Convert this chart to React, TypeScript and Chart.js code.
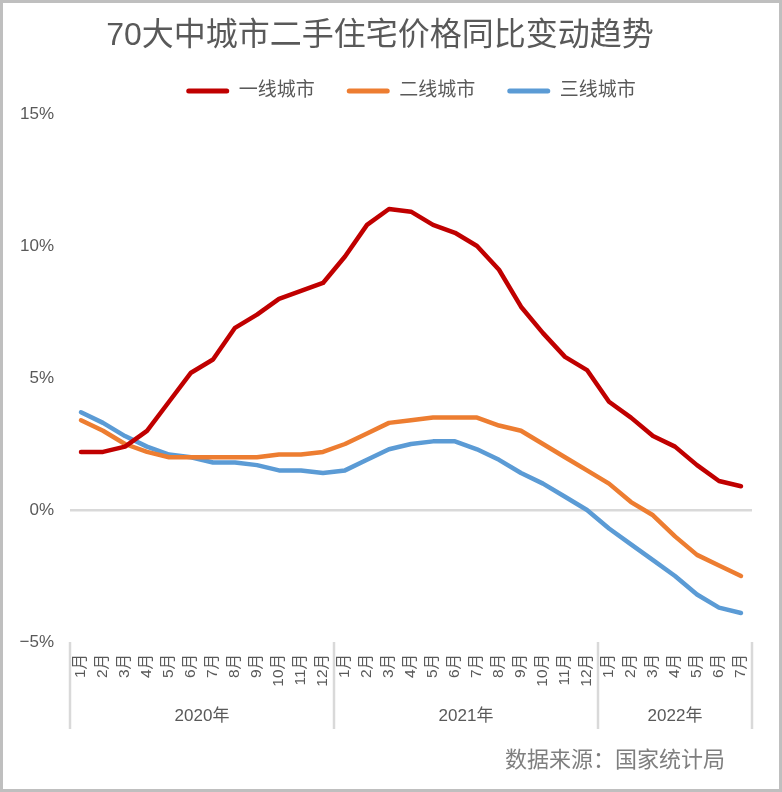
import React, { useEffect, useRef } from 'react';
import { Chart, registerables } from 'chart.js';

Chart.register(...registerables);

const months = [
  '1月', '2月', '3月', '4月', '5月', '6月', '7月', '8月', '9月', '10月', '11月', '12月',
  '1月', '2月', '3月', '4月', '5月', '6月', '7月', '8月', '9月', '10月', '11月', '12月',
  '1月', '2月', '3月', '4月', '5月', '6月', '7月',
];
const years = ['2020年', '2021年', '2022年'];
const yearSpans = [12, 12, 7];

const tier1 = [2.2, 2.2, 2.4, 3.0, 4.1, 5.2, 5.7, 6.9, 7.4, 8.0, 8.3, 8.6,
  9.6, 10.8, 11.4, 11.3, 10.8, 10.5, 10.0, 9.1, 7.7, 6.7, 5.8, 5.3,
  4.1, 3.5, 2.8, 2.4, 1.7, 1.1, 0.9];
const tier2 = [3.4, 3.0, 2.5, 2.2, 2.0, 2.0, 2.0, 2.0, 2.0, 2.1, 2.1, 2.2,
  2.5, 2.9, 3.3, 3.4, 3.5, 3.5, 3.5, 3.2, 3.0, 2.5, 2.0, 1.5,
  1.0, 0.3, -0.2, -1.0, -1.7, -2.1, -2.5];
const tier3 = [3.7, 3.3, 2.8, 2.4, 2.1, 2.0, 1.8, 1.8, 1.7, 1.5, 1.5, 1.4,
  1.5, 1.9, 2.3, 2.5, 2.6, 2.6, 2.3, 1.9, 1.4, 1.0, 0.5, 0.0,
  -0.7, -1.3, -1.9, -2.5, -3.2, -3.7, -3.9];

const seriesNames = ['一线城市', '二线城市', '三线城市'];
const seriesColors = ['#C00000', '#ED7D31', '#5B9BD5'];
const yMin = -5;
const yMax = 15;
const yStep = 5;

const titleText = '70大中城市二手住宅价格同比变动趋势';
const sourceText = '数据来源：国家统计局';

const FONT = '"Liberation Sans", "Noto Sans CJK SC", sans-serif';
const TEXT = '#595959';
const GRID = '#d9d9d9';

export default function App() {
  const ref = useRef<HTMLCanvasElement>(null);

  useEffect(() => {
    document.body.style.margin = '0';
    const canvas = ref.current;
    if (!canvas) return;

    const decor = {
      id: 'decor',
      beforeDraw(chart: any) {
        const { ctx, width, height } = chart;
        ctx.save();
        ctx.fillStyle = '#ffffff';
        ctx.fillRect(0, 0, width, height);
        ctx.restore();
      },
      afterDraw(chart: any) {
        const { ctx, width, height } = chart;
        const x = chart.scales.x;
        const area = chart.chartArea;
        const step = x.getPixelForValue(1) - x.getPixelForValue(0);
        const top = area.bottom;
        const sepBottom = top + 87;
        const bounds: number[] = [];
        let start = 0;
        ctx.save();
        ctx.fillStyle = TEXT;
        ctx.font = `17px ${FONT}`;
        ctx.textAlign = 'center';
        ctx.textBaseline = 'middle';
        yearSpans.forEach((n, gi) => {
          const l = x.getPixelForValue(start) - step / 2;
          const r = x.getPixelForValue(start + n - 1) + step / 2;
          bounds.push(l);
          if (gi === yearSpans.length - 1) bounds.push(r);
          ctx.fillText(years[gi], (l + r) / 2, top + 74);
          start += n;
        });
        ctx.strokeStyle = GRID;
        ctx.lineWidth = 2.5;
        bounds.forEach((b) => {
          ctx.beginPath();
          ctx.moveTo(b, top);
          ctx.lineTo(b, sepBottom);
          ctx.stroke();
        });
        // source
        ctx.fillStyle = '#7f7f7f';
        ctx.font = `22px ${FONT}`;
        ctx.textAlign = 'right';
        ctx.fillText(sourceText, 725, 761);
        // frame
        ctx.strokeStyle = '#bfbfbf';
        ctx.lineWidth = 3;
        ctx.strokeRect(1.5, 1.5, width - 3, height - 3);
        ctx.restore();
      },
    };

    const chart = new Chart(canvas, {
      type: 'line',
      data: {
        labels: months,
        datasets: [tier1, tier2, tier3].map((d, i) => ({
          label: seriesNames[i],
          data: d,
          borderColor: seriesColors[i],
          backgroundColor: seriesColors[i],
          borderWidth: 4.5,
          pointRadius: 0,
          pointHoverRadius: 0,
          tension: 0,
          borderCapStyle: 'round' as const,
          borderJoinStyle: 'round' as const,
          fill: false,
        })),
      },
      options: {
        responsive: false,
        animation: false,
        devicePixelRatio: 1,
        layout: { padding: { left: 8, right: 30, top: 0, bottom: 0 } },
        plugins: {
          tooltip: { enabled: false },
          title: {
            display: true,
            text: titleText,
            color: TEXT,
            font: { family: FONT, size: 32, weight: 'normal', lineHeight: 1 },
            padding: { top: 13, bottom: -3 },
          },
          subtitle: {
            display: true,
            text: ' ',
            position: 'top',
            weight: 500,
            fullSize: false,
            color: 'rgba(0,0,0,0)',
            font: { family: FONT, size: 1, lineHeight: 1 },
            padding: { top: 0, bottom: 2.5 },
          },
          legend: {
            display: true,
            position: 'top',
            fullSize: false,
            labels: {
              color: TEXT,
              font: { family: FONT, size: 19 },
              boxWidth: 43,
              boxHeight: 5,
              padding: 32,
              useBorderRadius: true,
              borderRadius: 2.5,
              generateLabels: (c: any) =>
                c.data.datasets.map((ds: any, i: number) => ({
                  text: ds.label,
                  fillStyle: ds.borderColor,
                  strokeStyle: ds.borderColor,
                  lineWidth: 0,
                  hidden: false,
                  datasetIndex: i,
                  borderRadius: 2.5,
                  fontColor: TEXT,
                })),
            },
          },
        } as any,
        scales: {
          x: {
            type: 'category',
            offset: true,
            grid: { display: false, drawTicks: false },
            border: { display: false },
            ticks: {
              autoSkip: false,
              minRotation: 90,
              maxRotation: 90,
              padding: 12,
              color: TEXT,
              font: { family: FONT, size: 15.5 },
            },
            afterFit: (s: any) => {
              s.height = 150;
            },
          },
          y: {
            min: yMin,
            max: yMax,
            grid: {
              drawTicks: false,
              lineWidth: 2.5,
              color: (ctx: any) => (ctx.tick && ctx.tick.value === 0 ? GRID : 'rgba(0,0,0,0)'),
            },
            border: { display: false },
            ticks: {
              stepSize: yStep,
              padding: 16,
              color: TEXT,
              font: { family: FONT, size: 17 },
              callback: (v: any) => `${Number(v) < 0 ? '−' + Math.abs(Number(v)) : v}%`,
            },
            afterFit: (s: any) => {
              s.width = 62;
              s.paddingTop = 114;
            },
          },
        },
      },
      plugins: [decor],
    });

    return () => chart.destroy();
  }, []);

  return (
    <div style={{ width: 782, height: 792, position: 'relative' }}>
      <canvas ref={ref} width={782} height={792} style={{ display: 'block', width: 782, height: 792 }} />
    </div>
  );
}
